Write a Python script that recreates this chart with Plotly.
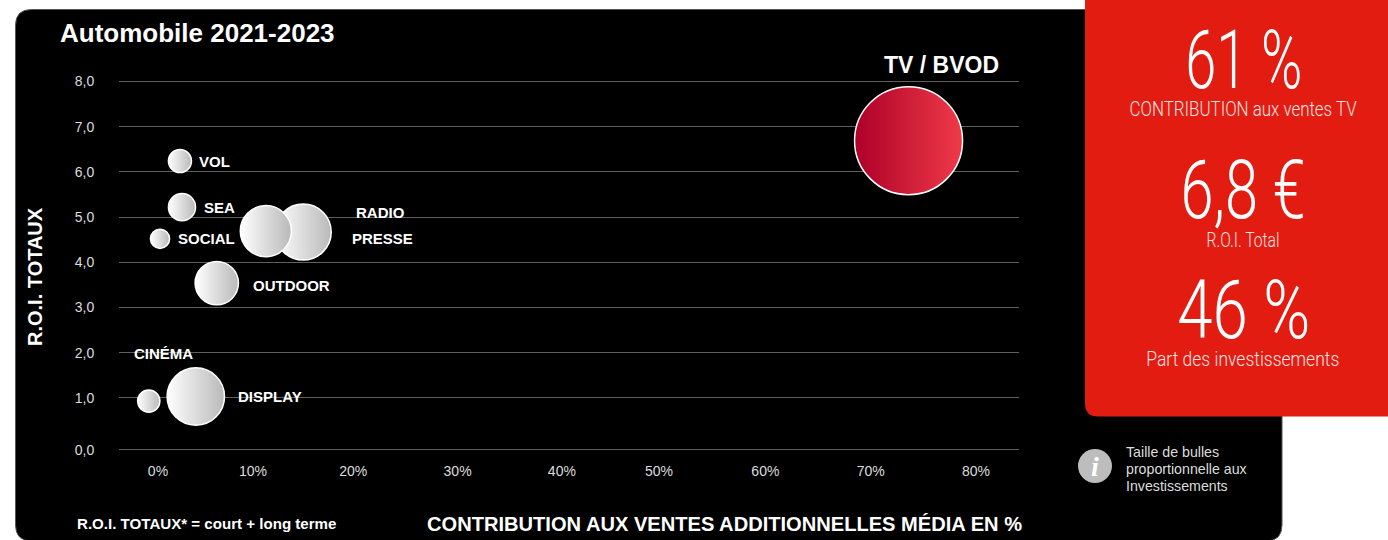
import plotly.graph_objects as go

W, H = 1388, 540

# Data
media = ["VOL", "SEA", "SOCIAL", "PRESSE", "RADIO", "OUTDOOR", "CINÉMA", "DISPLAY", "TV / BVOD"]
contribution = [2.15, 2.35, 0.2, 14.2, 10.55, 5.75, -0.9, 3.7, 73.4]
roi = [6.24, 5.22, 4.52, 4.67, 4.69, 3.54, 0.93, 1.03, 6.69]
investment = [2.1, 2.9, 1.45, 12.4, 10.3, 7.4, 1.95, 13.0, 46.0]

x_tick_positions = [0, 9.3, 19.1, 29.3, 39.5, 49, 59.4, 69.7, 80]
x_tick_labels = ["0%", "10%", "20%", "30%", "40%", "50%", "60%", "70%", "80%"]
y_tick_positions = [-0.15, 1, 2, 3, 4, 5, 6, 7, 8]
y_tick_labels = ["0,0", "1,0", "2,0", "3,0", "4,0", "5,0", "6,0", "7,0", "8,0"]

kpi_values = ["61 %", "6,8 €", "46 %"]
kpi_captions = ["CONTRIBUTION aux ventes TV", "R.O.I. Total", "Part des investissements"]
info_lines = ["Taille de bulles", "proportionnelle aux", "Investissements"]

# Styling
label_dx = [17, 20, 16, 47, 88, 34, -17, 40, -27]
label_dy = [0, 0, 0, -6, 18.5, -2.5, 48, 0.5, 76]
kpi_value_widths = [117, 125, 133]
kpi_caption_widths = [227, 73, 193]
SANS = "Liberation Sans"
CONDENSED = "Roboto"


def px(x):
    return x / W


def py(y):
    return 1 - y / H


start_colors = ["#ffffff"] * 8 + ["#AE0029"]
end_colors = ["#b9b9b9"] * 8 + ["#EF3A48"]

fig = go.Figure(
    go.Scatter(
        x=contribution,
        y=roi,
        mode="markers",
        cliponaxis=False,
        hovertext=media,
        hoverinfo="text",
        marker=dict(
            size=investment,
            sizemode="area",
            sizeref=2 * 46.0 / 108.0**2,
            color=start_colors,
            gradient=dict(type="horizontal", color=end_colors),
            line=dict(color="white", width=1.5),
            opacity=1,
        ),
    )
)


def rpath(x0, y0, x1, y1, tl=0, bl=0, br=0):
    a = lambda x, y: f"{px(x)},{py(y)}"
    return (
        f"M {a(x0 + tl, y0)} L {a(x1, y0)} "
        f"L {a(x1, y1 - br)} Q {a(x1, y1)} {a(x1 - br, y1)} "
        f"L {a(x0 + bl, y1)} Q {a(x0, y1)} {a(x0, y1 - bl)} "
        f"L {a(x0, y0 + tl)} Q {a(x0, y0)} {a(x0 + tl, y0)} Z"
    )


shapes = [
    dict(type="path", xref="paper", yref="paper", layer="below",
         path=rpath(15.5, 9.5, 1282, 541, tl=16, bl=16, br=16),
         fillcolor="#000000", line=dict(color="#555555", width=1)),
    dict(type="path", xref="paper", yref="paper", layer="below",
         path=rpath(1085, -2, 1390, 416.5, bl=13),
         fillcolor="#E31C12", line=dict(width=0)),
    dict(type="circle", xref="paper", yref="paper", layer="below",
         x0=px(1078), x1=px(1112), y0=py(483), y1=py(449),
         fillcolor="#BDBDBD", line=dict(width=0)),
]

annotations = []


def note(x, y, text, size, color="white", bold=False, family=SANS, xanchor="left", weight=None, **kw):
    annotations.append(dict(
        xref="paper", yref="paper", x=px(x - 1.5 if xanchor == "left" else x), y=py(y),
        text=text, showarrow=False,
        xanchor=xanchor, yanchor="middle", align="left",
        font=dict(family=family, size=size, color=color,
                  weight=weight if weight else ("bold" if bold else "normal")),
        borderpad=0, **kw))


for i, name in enumerate(media):
    annotations.append(dict(
        xref="x", yref="y", x=contribution[i], y=roi[i], text=name, showarrow=False,
        xanchor="left", yanchor="middle", xshift=label_dx[i], yshift=label_dy[i],
        font=dict(family=SANS, size=23 if i == 8 else 15, color="white", weight="bold"),
    ))

note(60, 33, "Automobile 2021-2023", 26, bold=True)
note(35, 277, "R.O.I. TOTAUX", 20, bold=True, xanchor="center", textangle=-90)
note(427, 524, "CONTRIBUTION AUX VENTES ADDITIONNELLES MÉDIA EN %", 20.1, bold=True)
note(77, 523, "R.O.I. TOTAUX* = court + long terme", 15.1, bold=True)
for line, yl in zip(info_lines, [452, 469, 486]):
    note(1126, yl, line, 14.2, color="#dddddd")
note(1095, 466, "i", 28, family="Liberation Serif", bold=True, xanchor="center")
annotations[-1]["font"]["style"] = "italic"

for value, caption, yv, yc in zip(kpi_values, kpi_captions, [61, 191, 310], [109, 240, 359]):
    note(1243, yv, value, 81, family=CONDENSED, xanchor="center", weight=300)
    note(1243, yc, caption, 21, family=CONDENSED, xanchor="center", color="#fbe3e0", weight=300)

axis_font = dict(family=SANS, size=14, color="#dddddd")
fig.update_layout(
    width=W,
    height=H,
    autosize=False,
    margin=dict(l=0, r=0, t=0, b=0, autoexpand=False),
    paper_bgcolor="white",
    plot_bgcolor="rgba(0,0,0,0)",
    showlegend=False,
    shapes=shapes,
    annotations=annotations,
    xaxis=dict(
        domain=[px(119), px(1019)],
        range=[-3.81, 84.2],
        tickmode="array",
        tickvals=x_tick_positions,
        ticktext=x_tick_labels,
        showgrid=False,
        zeroline=False,
        ticks="outside",
        ticklen=6,
        tickcolor="rgba(0,0,0,0)",
        tickfont=axis_font,
    ),
    yaxis=dict(
        domain=[py(452.14), py(79.24)],
        range=[-0.2, 8.05],
        tickmode="array",
        tickvals=y_tick_positions,
        ticktext=y_tick_labels,
        showgrid=True,
        gridcolor="#5f5f5f",
        gridwidth=1,
        zeroline=False,
        ticks="outside",
        ticklen=21,
        tickcolor="rgba(0,0,0,0)",
        tickfont=axis_font,
    ),
)

# Page margin off, and the condensed look of the red panel's texts
widths = dict(zip(kpi_values + kpi_captions, kpi_value_widths + kpi_caption_widths))
post = (
    "document.body.style.margin='0';document.body.style.overflow='hidden';"
    f"var w={widths};"
    "document.querySelectorAll('.annotation-text').forEach(function(t){"
    "var k=t.textContent;if(w[k]){var a=t.getBBox();"
    "t.setAttribute('textLength',w[k]);"
    "t.setAttribute('lengthAdjust','spacingAndGlyphs');"
    "var b=t.getBBox();var x=parseFloat(t.getAttribute('x')||0);"
    "t.setAttribute('x',x+(a.x+a.width/2)-(b.x+b.width/2));}});"
)
fig.write_html("out.html", config=dict(displayModeBar=False), post_script=post)
